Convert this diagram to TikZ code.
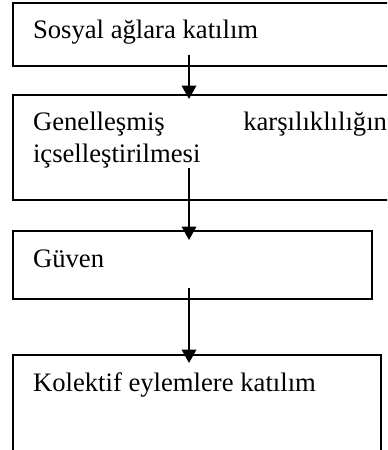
\documentclass[tikz,border=0pt]{standalone}
\usepackage{fontspec}
\setmainfont{Liberation Serif}
\usetikzlibrary{arrows.meta,calc,positioning}
\hyphenpenalty=10000
\exhyphenpenalty=10000

\tikzset{
    stagebox/.style={draw, line width=0.9pt, anchor=north west, outer sep=0pt,
        inner xsep=9pt, inner ysep=0pt, align=justify, text height=16.2pt},
    flowarrow/.style={-{Triangle[length=6pt, width=6.5pt]}, line width=0.9pt}
}

\begin{document}
\begin{tikzpicture}[x=0.45pt, y=-0.45pt, font=\fontsize{12}{14.4}\selectfont]
    \useasboundingbox (0,0) rectangle (387,450);
    \clip (0,0) rectangle (387,450);

    % Stages
    \node[stagebox, text width=159.3pt, text depth=12.2pt] (social) at (13,3) {Sosyal ağlara katılım};
    \node[stagebox, text width=159.3pt, text depth=31pt] (norm) at (13,95) {Genelleşmiş karşılıklılığın içselleştirilmesi};
    \node[stagebox, text width=143.6pt, text depth=14.4pt] (trust) at (13,231) {Güven};
    \node[stagebox, text width=147.6pt, text depth=36pt] (action) at (13,355) {Kolektif eylemlere katılım};

    % Arrows
    \draw[flowarrow] ($(social.south west)+(176,-11)$) -- ($(norm.north west)+(176,4)$);
    \draw[flowarrow] ($(norm.south west)+(176,-32)$) -- ($(trust.north west)+(176,9)$);
    \draw[flowarrow] ($(trust.south west)+(176,-11)$) -- ($(action.north west)+(176,8)$);
\end{tikzpicture}
\end{document}
